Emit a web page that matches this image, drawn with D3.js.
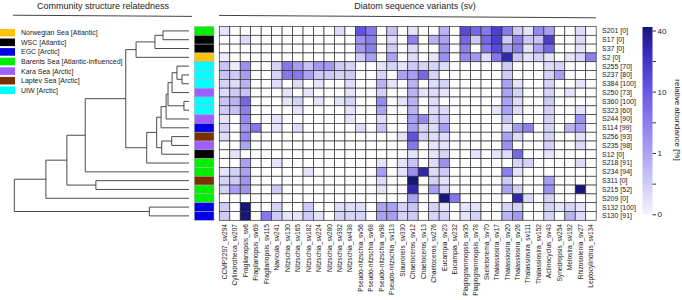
<!DOCTYPE html>
<html><head><meta charset="utf-8">
<script src="https://cdn.jsdelivr.net/npm/d3@7"></script>
<style>body{margin:0;background:#fff}svg{display:block;font-family:"Liberation Sans",Arial,sans-serif}</style>
</head><body><svg id="c" width="682" height="300"></svg>
<script>
const columns = ["CCMP2297_sv294","Cylindrotheca_sv207","Fragilariopsis_sv6","Fragilariopsis_sv69","Fragilariopsis_sv115","Navicula_sv241","Nitzschia_sv130","Nitzschia_sv165","Nitzschia_sv182","Nitzschia_sv224","Nitzschia_sv280","Nitzschia_sv392","Nitzschia_sv438","Pseudo-nitzschia_sv56","Pseudo-nitzschia_sv68","Pseudo-nitzschia_sv98","Pseudo-nitzschia_sv113","Stauroneis_sv330","Chaetoceros_sv12","Chaetoceros_sv13","Chaetoceros_sv276","Eucampia_sv23","Eucampia_sv232","Plagiogrammopsis_sv35","Plagiogrammopsis_sv78","Skeletonema_sv70","Thalassiosira_sv17","Thalassiosira_sv20","Thalassiosira_sv26","Thalassiosira_sv111","Thalassiosira_sv152","Actinocyclus_sv43","Synedropsis_sv254","Melosira_sv192","Rhizosolenia_sv27","Leptocylindrus_sv134"];
const rows = ["S201 [0]","S17 [0]","S37 [0]","S2 [0]","S255 [70]","S237 [80]","S384 [100]","S250 [73]","S360 [100]","S323 [60]","S244 [90]","S114 [99]","S256 [93]","S235 [98]","S12 [0]","S218 [91]","S234 [94]","S311 [0]","S215 [52]","S209 [0]","S132 [100]","S130 [91]"];
const rowRegion = [3,1,1,0,6,6,6,4,6,6,4,2,5,4,1,3,3,5,3,3,2,2];
const regions = ["Norwegian Sea [Atlantic]","WSC [Atlantic]","EGC [Arctic]","Barents Sea [Atlantic-influenced]","Kara Sea [Arctic]","Laptev Sea [Arctic]","UIW [Arctic]"];
const regionColors = ["#ffc20e","#000000","#0000e6","#00ee00","#9f5fff","#7a3000","#00ffff"];
// relative abundance [%], one row per sample, one value per sequence variant
const abundance = [
[0.2,0,0,0,0,0,0,0,0,0,0,0.3,0,12,6,0,0.6,0,0.2,0,0,0.8,0,15,8,6,20,6,0.5,0.2,4,1.5,0,0,0.3,0],
[0,0,0.3,0,0,0,0,0,0,0,0,0,0,3,5,0,0.3,0,5,0,0.8,1,0,8,0.5,8,20,0.5,5,0.5,0.6,20,0,0,0.3,0],
[0,0,0,0,0,0,0,0,0,0,0,0,0,2,5,0,0.5,0,0.3,0,0,2,0,5,0,6,15,1,5,0.2,1,8,0,0,0.2,0],
[0.1,0,0,0,0,0,0,0,0,0,0,0,0,0.5,1.2,0,1,0,0.3,0,0.2,3,0,4,2,0.3,6,30,0.6,0.2,0.4,0.2,0,0.2,0.4,5],
[0.6,0.1,3,0,0,0.4,6,1.5,0.6,2,2,0.5,0.4,0,0,0.2,0.4,0.2,0.5,0.4,0.4,0.3,0,0,0,0,0,0.5,0,0,0,0.3,0.4,0,0,0],
[0.6,0.5,1.5,0,0,0.4,6,6,1,0.5,0.5,0.4,0.5,0,0,0.4,0,1,1.5,8,0.4,0,0,0,0,0,0,0.5,0,0,0,0.4,1.5,0,0,0],
[0.4,0.3,0.8,0,0,0.3,0,0.3,0,0.2,0,0,0.3,0,0,0.8,0.2,0,0.8,0,0.3,0.4,0,0,0,0,0,1,0.2,0,0,0.4,0,0,0.2,0],
[0.3,0.5,0.6,0,0,0,0.2,0,0.2,0,0,0,0.2,0,0,0.4,0,0,0.8,0.2,0.3,0.2,0,0,0,0,0,1,0.4,0,0,0.4,0,0.2,0,0],
[0.6,0.8,8,0,0,0,0.2,0.4,0,0.2,0,0.2,0.4,0,0,4,0,0.2,0.8,0,0.3,0,0,0,0,0,0,1,0.3,0,0,0.5,0,0,0,0],
[0.5,0.6,5,0,0,0,0,0.2,0,0,0,0,0.2,0,0,1,0,0,0.8,0,0.3,0.3,0,0,0,0,0.2,1,0.3,0,0,0.4,0,0,0.2,0],
[0.2,0,4,0,0,0.2,0,0,0,0,0,0,0.2,0,0,0.3,0,0,1.5,4,0.4,0.5,0,0,0,0,0,0.6,0,0,0,0.4,0,0,3,0],
[0.4,0,2,6,0,0.2,0,0.3,0,0,0,0,0,0.3,0,0.6,0,0,1.5,0.4,0.3,1.5,0,0,0,0,0,0.2,2,5,0,0.4,0,0.8,1.5,0],
[0.3,0,4,0,0,0,0,0,0,0,0,0,0,0,0,0,0,0.2,12,0.4,0.3,0.3,0,0,0,0,0,1,0.3,0,0,0.4,0,0,0.2,0],
[0,0,1,0,0,0,0,0,0,0,0,0,0,0,0,0,0,0,6,0,0.2,0.2,0,0,0,0,0,3,0,0,0,0.4,0,0,0.3,0],
[0,0.2,0,0,0,0,0,0,0,0,0,0,0,0,0,0,0,0,0.2,0,0.2,0.4,0,0,0.2,0,0.2,0.3,8,0,0,0.2,0,0,0,0],
[0,0,1,0,0,0.2,0,0,0,0,0,0,0,0,0,0.2,0,0.2,0.6,0,0.3,3,0,0,0,0,0,0,0.4,0.4,0,0,0,0,0.3,0],
[0.2,0.4,1,0,0,0,0,0,0.2,0,0,0,0,0,0,1.5,0,0.2,3,30,0.3,0.5,0,0,0,0,0,5,0.2,0,0,0,0,0,0,0],
[0.4,0.5,2.5,0,0,0,0,0,0,0,0,0,0,0,0,0.3,0,0,40,0,0.4,0.2,0,0,0,0,0,0.5,0,0,0,1.5,0,0,0,0],
[0.4,1.5,2.5,0,0,0.5,0,0,0,0,0,0,0,0,0,0.2,0,0,30,0,1.5,0.4,0,0,0,0,0,1,0.4,0,0,3,0,0,40,0],
[0,0,0,0,0,0,0,0,0,0,0,0,0,0,0,0,0,0,1,0,0,40,6,0,0,0,0,0,30,0.3,0,0.4,0,0,0,0],
[0.5,0,40,0,0,0.4,0,0,0.5,0,0,0.3,0.3,0.3,0,1,1,0.4,0.6,0,0.4,0.2,0,0.2,0.2,0,0,0.4,0.4,0,0,0.4,0.2,0.4,0.2,0],
[0.5,0,40,0,6,0.5,0.2,0.2,0.5,0.2,0,0.4,0.4,0.4,0,1,1.5,0.4,0.5,0,0.4,0.4,0,0.2,0.4,0,0,0.8,2,0,0,0.4,0,0.8,0.3,0]
];
// hierarchical clustering (hclust style: negative = leaf row, positive = earlier merge)
const mergeA = [-1,1,2,-6,-5,5,-9,6,8,9,-13,11,10,13,3,15,-18,16,18,-21,19];
const mergeB = [-2,-3,-4,-7,4,-8,-10,7,-11,-12,-14,-15,12,-16,14,-17,-19,17,-20,-22,20];
const mergeHeight = [0.149,0.195,0.303,0.04,0.069,0.097,0.029,0.12,0.131,0.16,0.099,0.156,0.185,0.242,0.362,0.594,0.533,0.699,0.819,0.227,1.0];
const legendTicks = [0,0.5,1,5.5,10,25,40];
const legendLabels = [0,1,10,40];

const svg = d3.select("#c");
const txt = "#222";

const x = d3.scaleBand().domain(columns).range([219.3, 596.2]);
const y = d3.scaleBand().domain(rows).range([26.5, 220.3]);
const tPos = d3.scaleLinear().domain([0,1,10,40]).range([0,1/3,2/3,1]).clamp(true);
const ramp = d3.scaleLinear().domain([0,0.35,0.65,0.85,1])
  .range(["#f4f4fe","#a69ef2","#6a5ae6","#3a2fc0","#16157a"]).interpolate(d3.interpolateRgb);
const color = v => v <= 0 ? "#ffffff" : ramp(tPos(v));

// titles
svg.append("text").attr("x",103).attr("y",9).attr("text-anchor","middle").attr("font-size",9).attr("fill",txt).text("Community structure relatedness");
svg.append("text").attr("x",415).attr("y",9).attr("text-anchor","middle").attr("font-size",9).attr("fill",txt).text("Diatom sequence variants (sv)");
svg.append("line").attr("x1",13).attr("x2",192).attr("y1",15.2).attr("y2",16.4).attr("stroke","#444").attr("stroke-width",1);
svg.append("line").attr("x1",219).attr("x2",596).attr("y1",15.4).attr("y2",17.8).attr("stroke","#444").attr("stroke-width",1);

// heatmap
const cells = [];
abundance.forEach((r,i)=>r.forEach((v,j)=>cells.push({row:rows[i],col:columns[j],v})));
svg.append("g").selectAll("rect").data(cells).join("rect")
  .attr("x",d=>x(d.col)).attr("y",d=>y(d.row))
  .attr("width",x.bandwidth()).attr("height",y.bandwidth())
  .attr("fill",d=>color(d.v)).attr("stroke","#333").attr("stroke-width",0.7);

// region strip
svg.append("g").selectAll("rect").data(rows).join("rect")
  .attr("x",194.3).attr("width",19.7).attr("y",d=>y(d)).attr("height",y.bandwidth())
  .attr("fill",(d,i)=>regionColors[rowRegion[i]]).attr("stroke","#b0b0b0").attr("stroke-width",0.5);

// row labels
svg.append("g").selectAll("text").data(rows).join("text")
  .attr("x",602).attr("y",d=>y(d)+y.bandwidth()/2).attr("dy","0.35em")
  .attr("font-size",7).attr("fill",txt).text(d=>d);

// column labels
svg.append("g").selectAll("text").data(columns).join("text")
  .attr("transform",d=>`translate(${x(d)+x.bandwidth()/2+2.3},224) rotate(-90)`)
  .attr("text-anchor","end").attr("font-size",6.6).attr("fill",txt).text(d=>d);

// dendrogram
const dx = d3.scaleLinear().domain([0,1]).range([189,14.3]);
const nodeY = [], nodeH = [];
const yOf = k => k < 0 ? y(rows[-k-1]) + y.bandwidth()/2 : nodeY[k-1];
const hOf = k => k < 0 ? 0 : nodeH[k-1];
const paths = [];
mergeA.forEach((a,i)=>{
  const b = mergeB[i], h = mergeHeight[i];
  const ya = yOf(a), yb = yOf(b);
  paths.push(`M${dx(hOf(a))},${ya}H${dx(h)}V${yb}H${dx(hOf(b))}`);
  nodeY[i] = (ya+yb)/2; nodeH[i] = h;
});
svg.append("g").selectAll("path").data(paths).join("path")
  .attr("d",d=>d).attr("fill","none").attr("stroke","#4a4a4a").attr("stroke-width",1);

// region legend
const lg = svg.append("g");
regions.forEach((r,i)=>{
  const cy = 32.7 + i*9.6;
  lg.append("rect").attr("x",0).attr("y",cy-3.8).attr("width",15).attr("height",7.6).attr("fill",regionColors[i]);
  lg.append("text").attr("x",21).attr("y",cy).attr("dy","0.35em").attr("font-size",7).attr("fill",txt).text(r);
});

// colour bar
const cb = d3.scaleLinear().domain([0,1,10,40]).range([214.3,153,91.6,30.5]);
const grad = svg.append("defs").append("linearGradient").attr("id","g").attr("x1",0).attr("x2",0).attr("y1",1).attr("y2",0);
d3.range(0,1.0001,0.05).forEach(t=>grad.append("stop").attr("offset",t).attr("stop-color",ramp(t)));
svg.append("rect").attr("x",642.5).attr("y",27).attr("width",10).attr("height",187.5).attr("fill","url(#g)");
const ax = svg.append("g").attr("transform","translate(652.5,0)")
  .call(d3.axisRight(cb).tickValues(legendTicks).tickSize(3.5).tickPadding(1.5)
    .tickFormat(d=>legendLabels.includes(d)?d:""));
ax.select(".domain").remove();
ax.selectAll("line").attr("stroke","#333");
ax.selectAll("text").attr("font-size",8).attr("fill",txt).attr("font-family","Liberation Sans, Arial, sans-serif");
svg.append("text").attr("transform","translate(675,120) rotate(90)").attr("text-anchor","middle")
  .attr("font-size",8).attr("fill",txt).text("relative abundance [%]");
</script></body></html>
